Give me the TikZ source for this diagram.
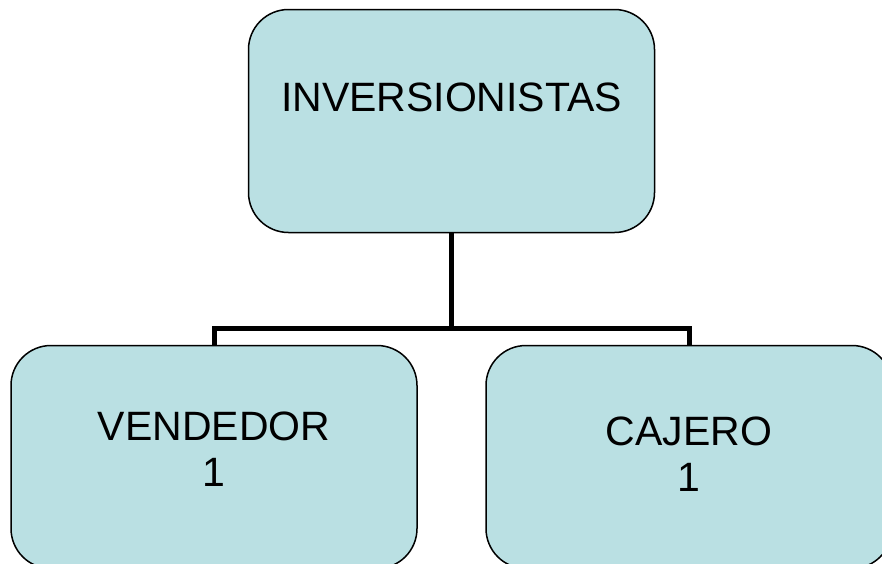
\documentclass[tikz,border=0pt]{standalone}
\usepackage{fontspec}
\setmainfont{Liberation Sans}
\definecolor{boxblue}{RGB}{186,224,227}
\begin{document}
\begin{tikzpicture}[x=1pt,y=-1pt,
        orgbox/.style={draw=black, line width=1.5pt, fill=boxblue, rounded corners=40pt,
            minimum width=406pt, minimum height=223pt, inner sep=0pt},
        orgtext/.style={font=\fontsize{41}{46}\selectfont, align=center, anchor=north, inner sep=0pt},
        link/.style={line width=5pt, line join=miter}]
        \useasboundingbox (0,0) rectangle (882,563);
        \clip (0,0) rectangle (882,563);

        %draw the boxes of the chart
        \node[orgbox] (inv) at (451.5,121) {};
        \node[orgbox] (vend) at (214,457) {};
        \node[orgbox] (caj) at (689,457) {};

        %draw the connectors
        \coordinate (split) at (451.5,328);
        \draw[link] (inv.south) -- (split);
        \draw[link] (vend.north) |- (split) -| (caj.north);

        %the texts
        \node[orgtext] (invtext) at (451.5,82.5) {INVERSIONISTAS};
        \node[orgtext] (vendtext) at (214,412) {VENDEDOR\\1};
        \node[orgtext] (cajtext) at (689,417) {CAJERO\\1};
    \end{tikzpicture}
\end{document}
